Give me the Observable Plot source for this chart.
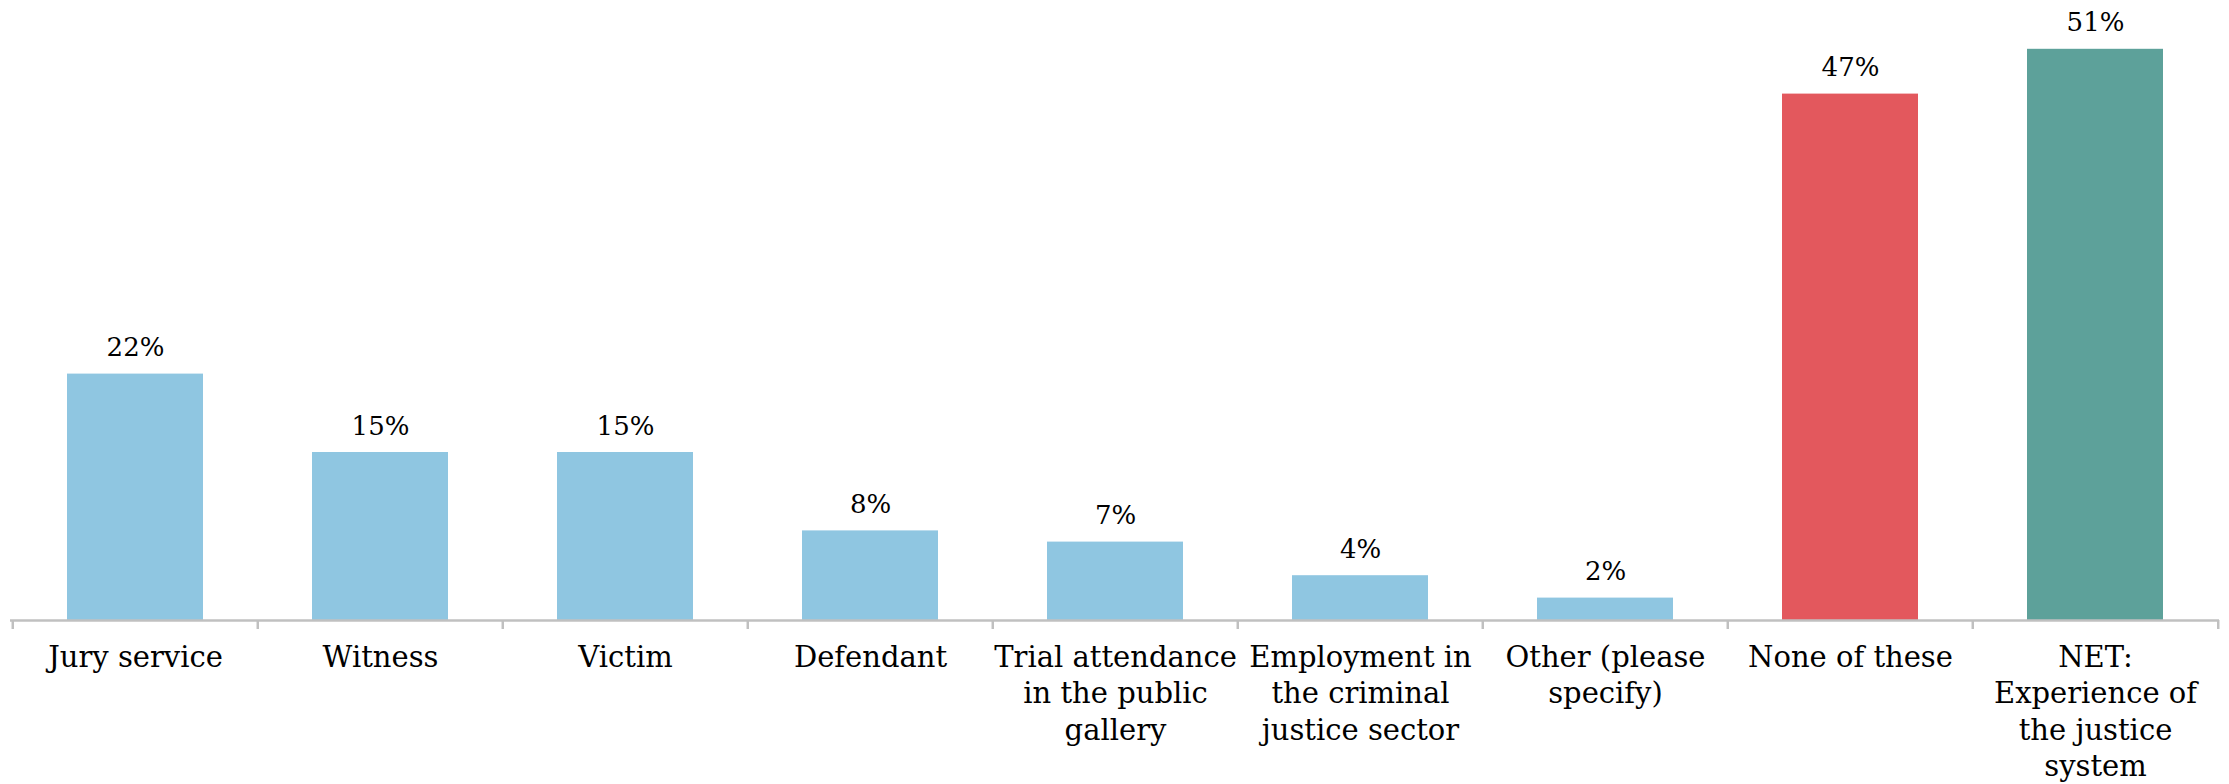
<!DOCTYPE html>
<html>
<head>
<meta charset="utf-8">
<script src="https://cdn.jsdelivr.net/npm/d3@7"></script>
<script src="https://cdn.jsdelivr.net/npm/@observablehq/plot@0.6"></script>
<style>
  html, body { margin: 0; padding: 0; background: #fff; }
  #chart svg { display: block; }
</style>
</head>
<body>
<div id="chart"></div>
<script>
const categories = [
  "Jury service", "Witness", "Victim", "Defendant",
  "Trial attendance in the public gallery",
  "Employment in the criminal justice sector",
  "Other (please specify)", "None of these",
  "NET: Experience of the justice system"
];
const tickLabels = [
  "Jury service", "Witness", "Victim", "Defendant",
  "Trial attendance\nin the public\ngallery",
  "Employment in\nthe criminal\njustice sector",
  "Other (please\nspecify)", "None of these",
  "NET:\nExperience of\nthe justice\nsystem"
];
const values = [22, 15, 15, 8, 7, 4, 2, 47, 51];
const groups = ["item", "item", "item", "item", "item", "item", "item", "none", "net"];

const data = categories.map((c, i) => ({category: c, value: values[i], group: groups[i]}));
const labelOf = new Map(categories.map((c, i) => [c, tickLabels[i]]));

const W = 2229, H = 784;
const mL = 10, mR = 10, mT = 4, mB = 164;
const innerH = H - mT - mB;
const pad = 0.446;
const step = (W - mL - mR) / categories.length;
const font = "DejaVu Serif";

const chart = Plot.plot({
  width: W,
  height: H,
  marginLeft: mL,
  marginRight: mR,
  marginTop: mT,
  marginBottom: mB,
  style: "font-family: 'DejaVu Serif'; color: #000; background: #fff;",
  x: {domain: categories, paddingInner: pad, paddingOuter: pad / 2, label: null},
  y: {domain: [0, 55], axis: null},
  color: {domain: ["item", "none", "net"], range: ["#8fc6e1", "#e3585d", "#5da19a"]},
  marks: [
    Plot.barY(data, {x: "category", y: "value", fill: "group"}),
    Plot.ruleY([0], {stroke: "#c0c0c0", strokeWidth: 2.5}),
    Plot.tickX(data, {x: "category", dx: -step / 2, stroke: "#c0c0c0", strokeWidth: 2.5, insetTop: innerH, insetBottom: -9}),
    Plot.tickX(data.slice(-1), {x: "category", dx: step / 2, stroke: "#c0c0c0", strokeWidth: 2.5, insetTop: innerH, insetBottom: -9}),
    Plot.text(data, {x: "category", y: "value", text: d => d.value + "%", lineAnchor: "bottom", dy: -18, fontSize: 26, fontFamily: font, fill: "#000"}),
    Plot.axisX({tickSize: 0, tickPadding: 21, fontSize: 29, fontFamily: font, lineHeight: 1.25, tickFormat: d => labelOf.get(d), fill: "#000", label: null})
  ]
});
document.getElementById("chart").append(chart);
</script>
</body>
</html>
